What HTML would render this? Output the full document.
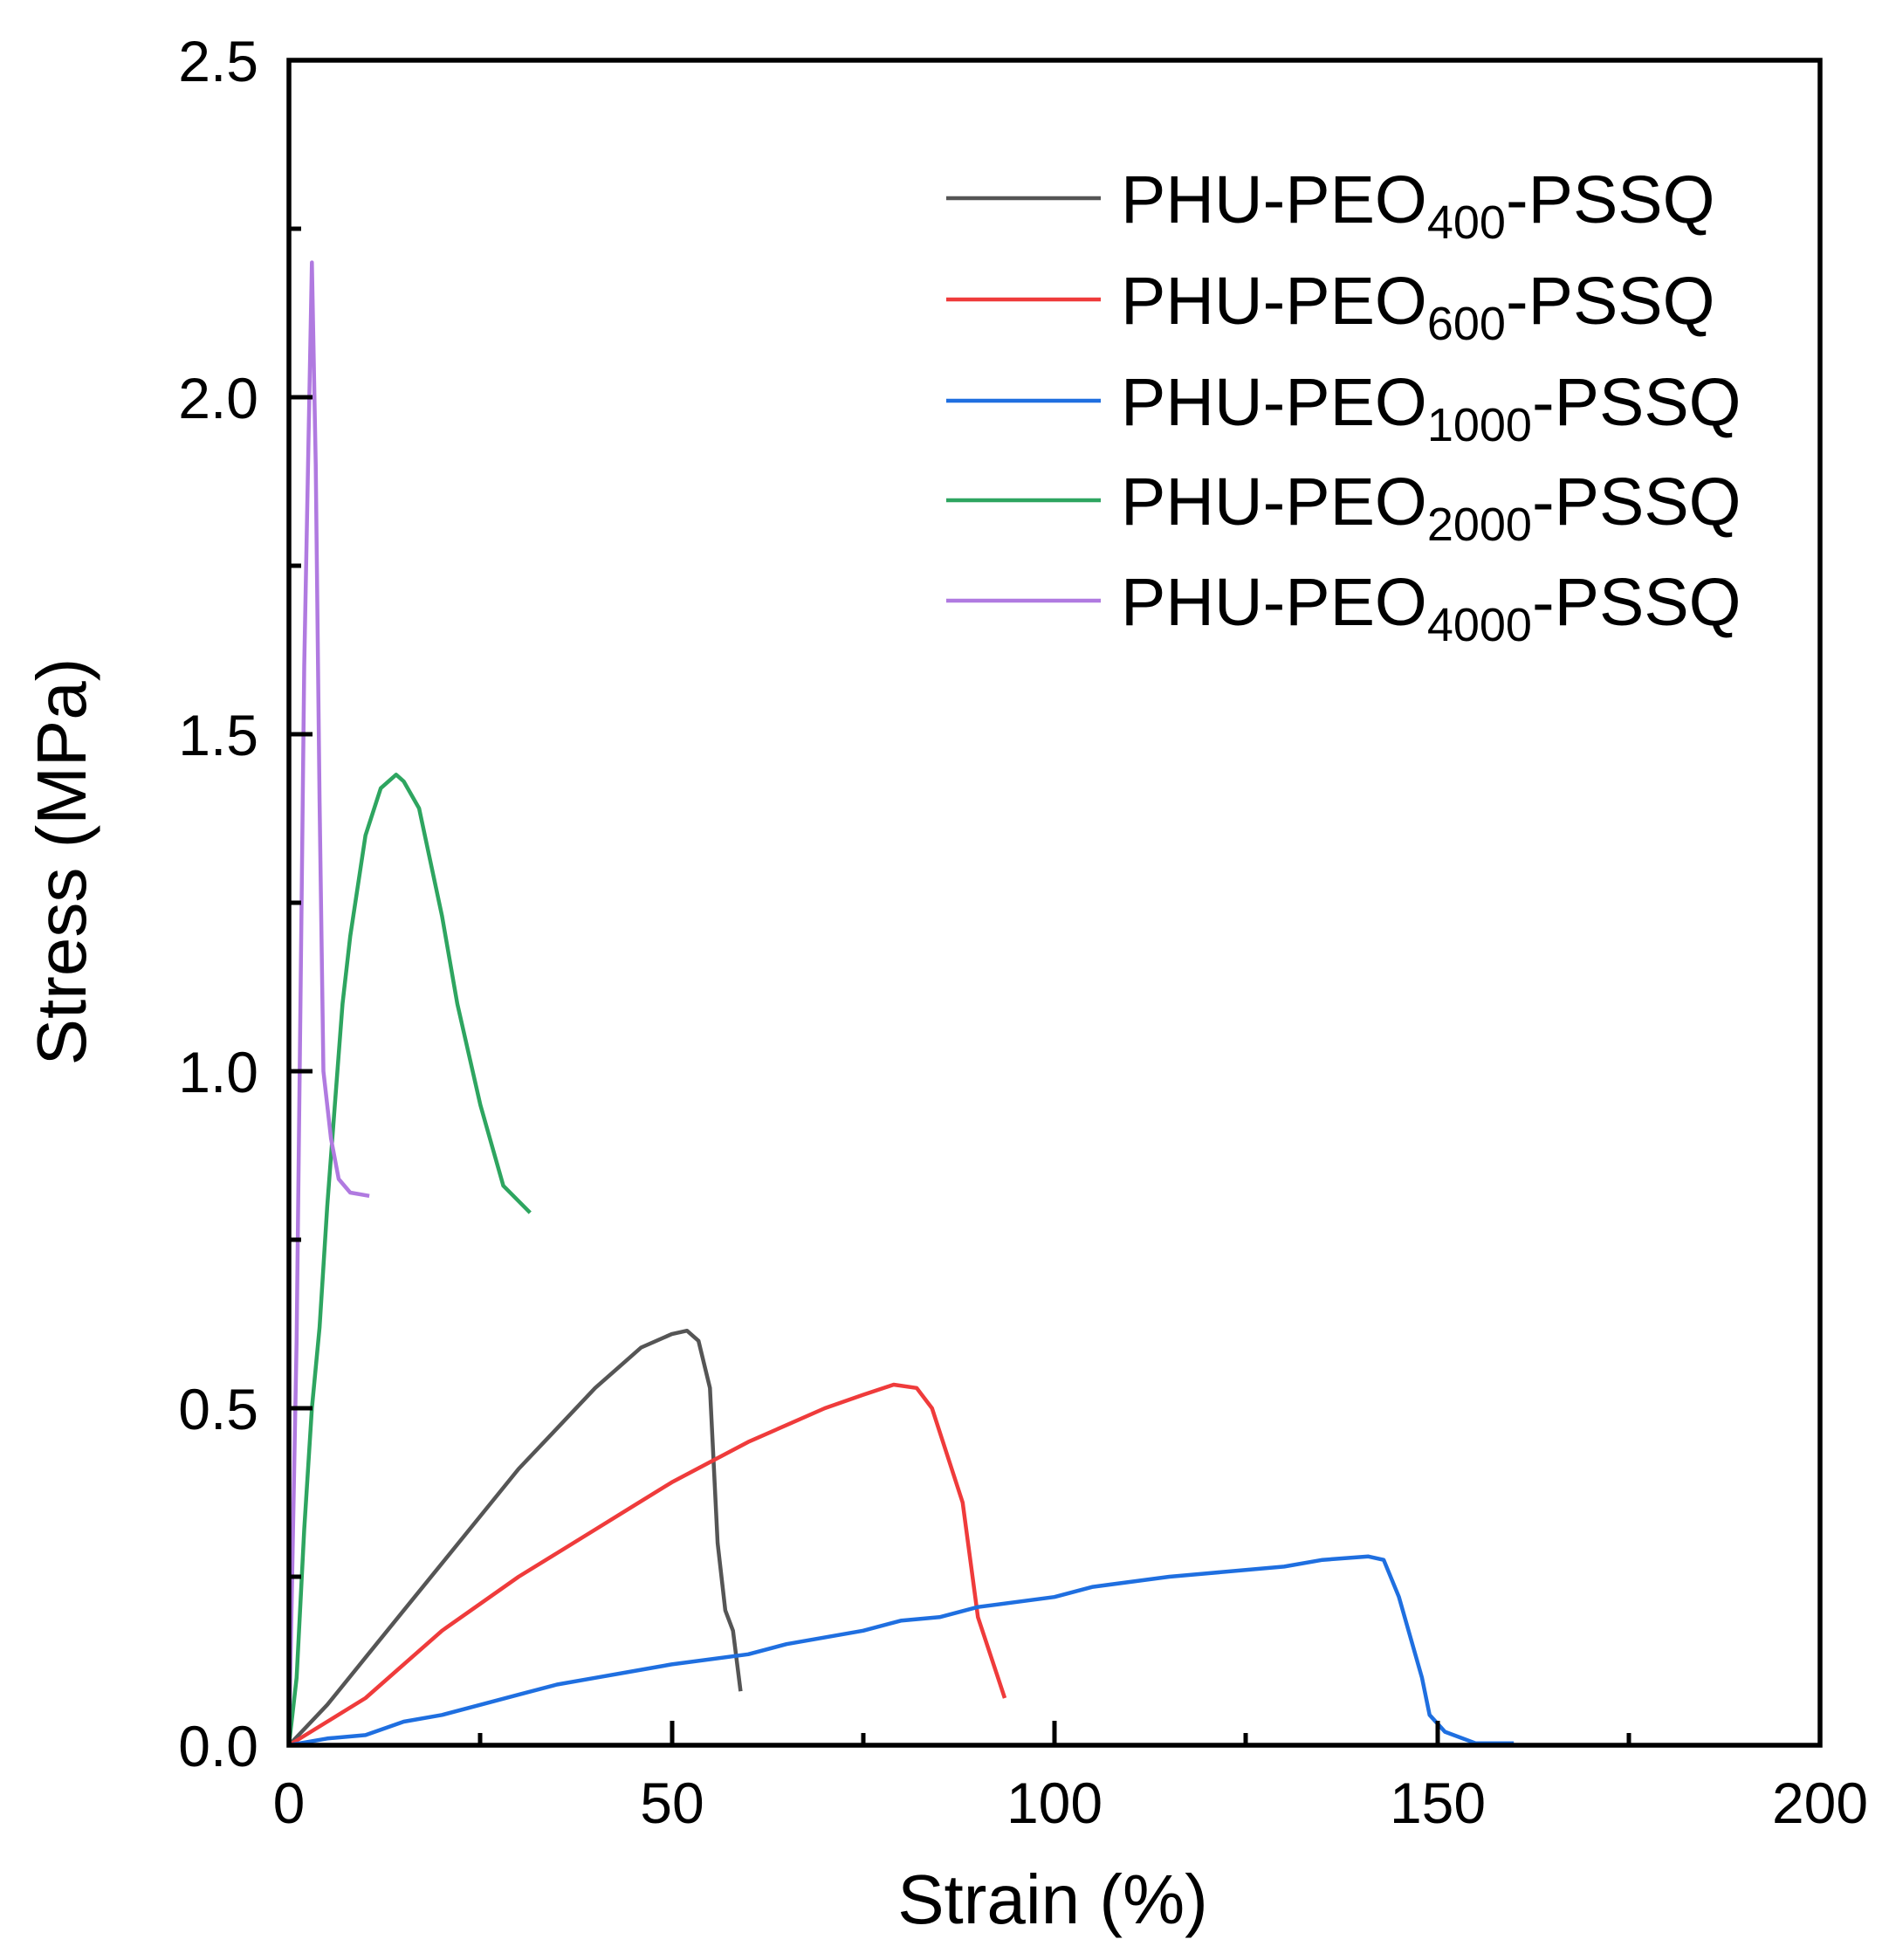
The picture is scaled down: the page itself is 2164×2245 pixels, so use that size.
<!DOCTYPE html>
<html><head><meta charset="utf-8"><style>html,body{margin:0;padding:0;background:#fff}</style></head>
<body>
<svg width="2164" height="2240" viewBox="0 0 2164 2240" xmlns="http://www.w3.org/2000/svg" font-family="Liberation Sans, Arial, sans-serif">
<rect width="2164" height="2240" fill="#fff"/>
<g id="plot" fill="none" stroke-width="4.5" stroke-linejoin="round">
</g>
<script>
const X=s=>331+s*8.77, Y=v=>1999-v*772;
const series=[
["#555555",[[0,0],[5,0.06],[10,0.13],[15,0.2],[20,0.27],[25,0.34],[30,0.41],[35,0.47],[40,0.53],[43,0.56],[46,0.59],[50,0.61],[52,0.615],[53.5,0.6],[55,0.53],[56,0.3],[57,0.2],[58,0.17],[59,0.08]]],
["#ef3b3b",[[0,0],[5,0.035],[10,0.07],[15,0.12],[20,0.17],[25,0.21],[30,0.25],[35,0.285],[40,0.32],[45,0.355],[50,0.39],[55,0.42],[60,0.45],[65,0.475],[70,0.5],[75,0.52],[79,0.535],[82,0.53],[84,0.5],[88,0.36],[90,0.19],[93.5,0.07]]],
["#1f6fe0",[[0,0],[5,0.01],[10,0.015],[15,0.035],[20,0.045],[25,0.06],[30,0.075],[35,0.09],[40,0.1],[45,0.11],[50,0.12],[60,0.135],[65,0.15],[75,0.17],[80,0.185],[85,0.19],[90,0.205],[100,0.22],[105,0.235],[115,0.25],[120,0.255],[130,0.265],[135,0.275],[141,0.28],[143,0.275],[145,0.22],[148,0.1],[149,0.045],[151,0.02],[155,0.003],[160,0.003]]],
["#2ea560",[[0,0],[1,0.1],[2,0.32],[3,0.5],[4,0.62],[5,0.8],[6,0.95],[7,1.1],[8,1.2],[10,1.35],[12,1.42],[14,1.44],[15,1.43],[17,1.39],[20,1.23],[22,1.1],[25,0.95],[28,0.83],[31.5,0.79]]],
["#b07ae0",[[0,0],[1,0.6],[1.5,1.1],[2,1.6],[2.5,1.9],[3,2.2],[3.5,1.9],[4,1.4],[4.5,1.0],[5.5,0.9],[6.5,0.84],[8,0.82],[10.5,0.815]]]
];
const g=document.getElementById('plot');
for(const [c,p] of series){const e=document.createElementNS('http://www.w3.org/2000/svg','polyline');e.setAttribute('points',p.map(q=>X(q[0]).toFixed(1)+','+Y(q[1]).toFixed(1)).join(' '));e.setAttribute('stroke',c);g.appendChild(e);}
</script>
<g stroke="#000" stroke-width="5">
<line x1="331" y1="1999" x2="331" y2="1971"/><line x1="550" y1="1999" x2="550" y2="1985"/>
<line x1="770" y1="1999" x2="770" y2="1971"/><line x1="989" y1="1999" x2="989" y2="1985"/>
<line x1="1208" y1="1999" x2="1208" y2="1971"/><line x1="1427" y1="1999" x2="1427" y2="1985"/>
<line x1="1647" y1="1999" x2="1647" y2="1971"/><line x1="1866" y1="1999" x2="1866" y2="1985"/>
<line x1="331" y1="1806" x2="345" y2="1806"/><line x1="331" y1="1613" x2="358" y2="1613"/>
<line x1="331" y1="1420" x2="345" y2="1420"/><line x1="331" y1="1227" x2="358" y2="1227"/>
<line x1="331" y1="1034" x2="345" y2="1034"/><line x1="331" y1="841" x2="358" y2="841"/>
<line x1="331" y1="648" x2="345" y2="648"/><line x1="331" y1="455" x2="358" y2="455"/>
<line x1="331" y1="262" x2="345" y2="262"/>
</g>
<rect x="331" y="69" width="1754" height="1930" fill="none" stroke="#000" stroke-width="5.5"/>
<g font-size="66" fill="#000" text-anchor="end">
<text x="296" y="2023">0.0</text><text x="296" y="1637">0.5</text><text x="296" y="1251">1.0</text>
<text x="296" y="865">1.5</text><text x="296" y="479">2.0</text><text x="296" y="93">2.5</text>
</g>
<g font-size="66" fill="#000" text-anchor="middle">
<text x="331" y="2088">0</text><text x="770" y="2088">50</text><text x="1208" y="2088">100</text>
<text x="1647" y="2088">150</text><text x="2085" y="2088">200</text>
</g>
<text x="1206" y="2203" font-size="80" text-anchor="middle">Strain (%)</text>
<text transform="translate(98,987) rotate(-90)" font-size="80" text-anchor="middle">Stress (MPa)</text>
<g stroke-width="4.5">
<line x1="1084" y1="227" x2="1261" y2="227" stroke="#555555"/>
<line x1="1084" y1="343" x2="1261" y2="343" stroke="#ef3b3b"/>
<line x1="1084" y1="459" x2="1261" y2="459" stroke="#1f6fe0"/>
<line x1="1084" y1="573" x2="1261" y2="573" stroke="#2ea560"/>
<line x1="1084" y1="688" x2="1261" y2="688" stroke="#b07ae0"/>
</g>
<g font-size="77" fill="#000">
<text x="1284" y="255">PHU-PEO<tspan font-size="54" dy="18">400</tspan><tspan dy="-18">-PSSQ</tspan></text>
<text x="1284" y="371">PHU-PEO<tspan font-size="54" dy="18">600</tspan><tspan dy="-18">-PSSQ</tspan></text>
<text x="1284" y="487">PHU-PEO<tspan font-size="54" dy="18">1000</tspan><tspan dy="-18">-PSSQ</tspan></text>
<text x="1284" y="601">PHU-PEO<tspan font-size="54" dy="18">2000</tspan><tspan dy="-18">-PSSQ</tspan></text>
<text x="1284" y="716">PHU-PEO<tspan font-size="54" dy="18">4000</tspan><tspan dy="-18">-PSSQ</tspan></text>
</g>
</svg>
</body></html>
